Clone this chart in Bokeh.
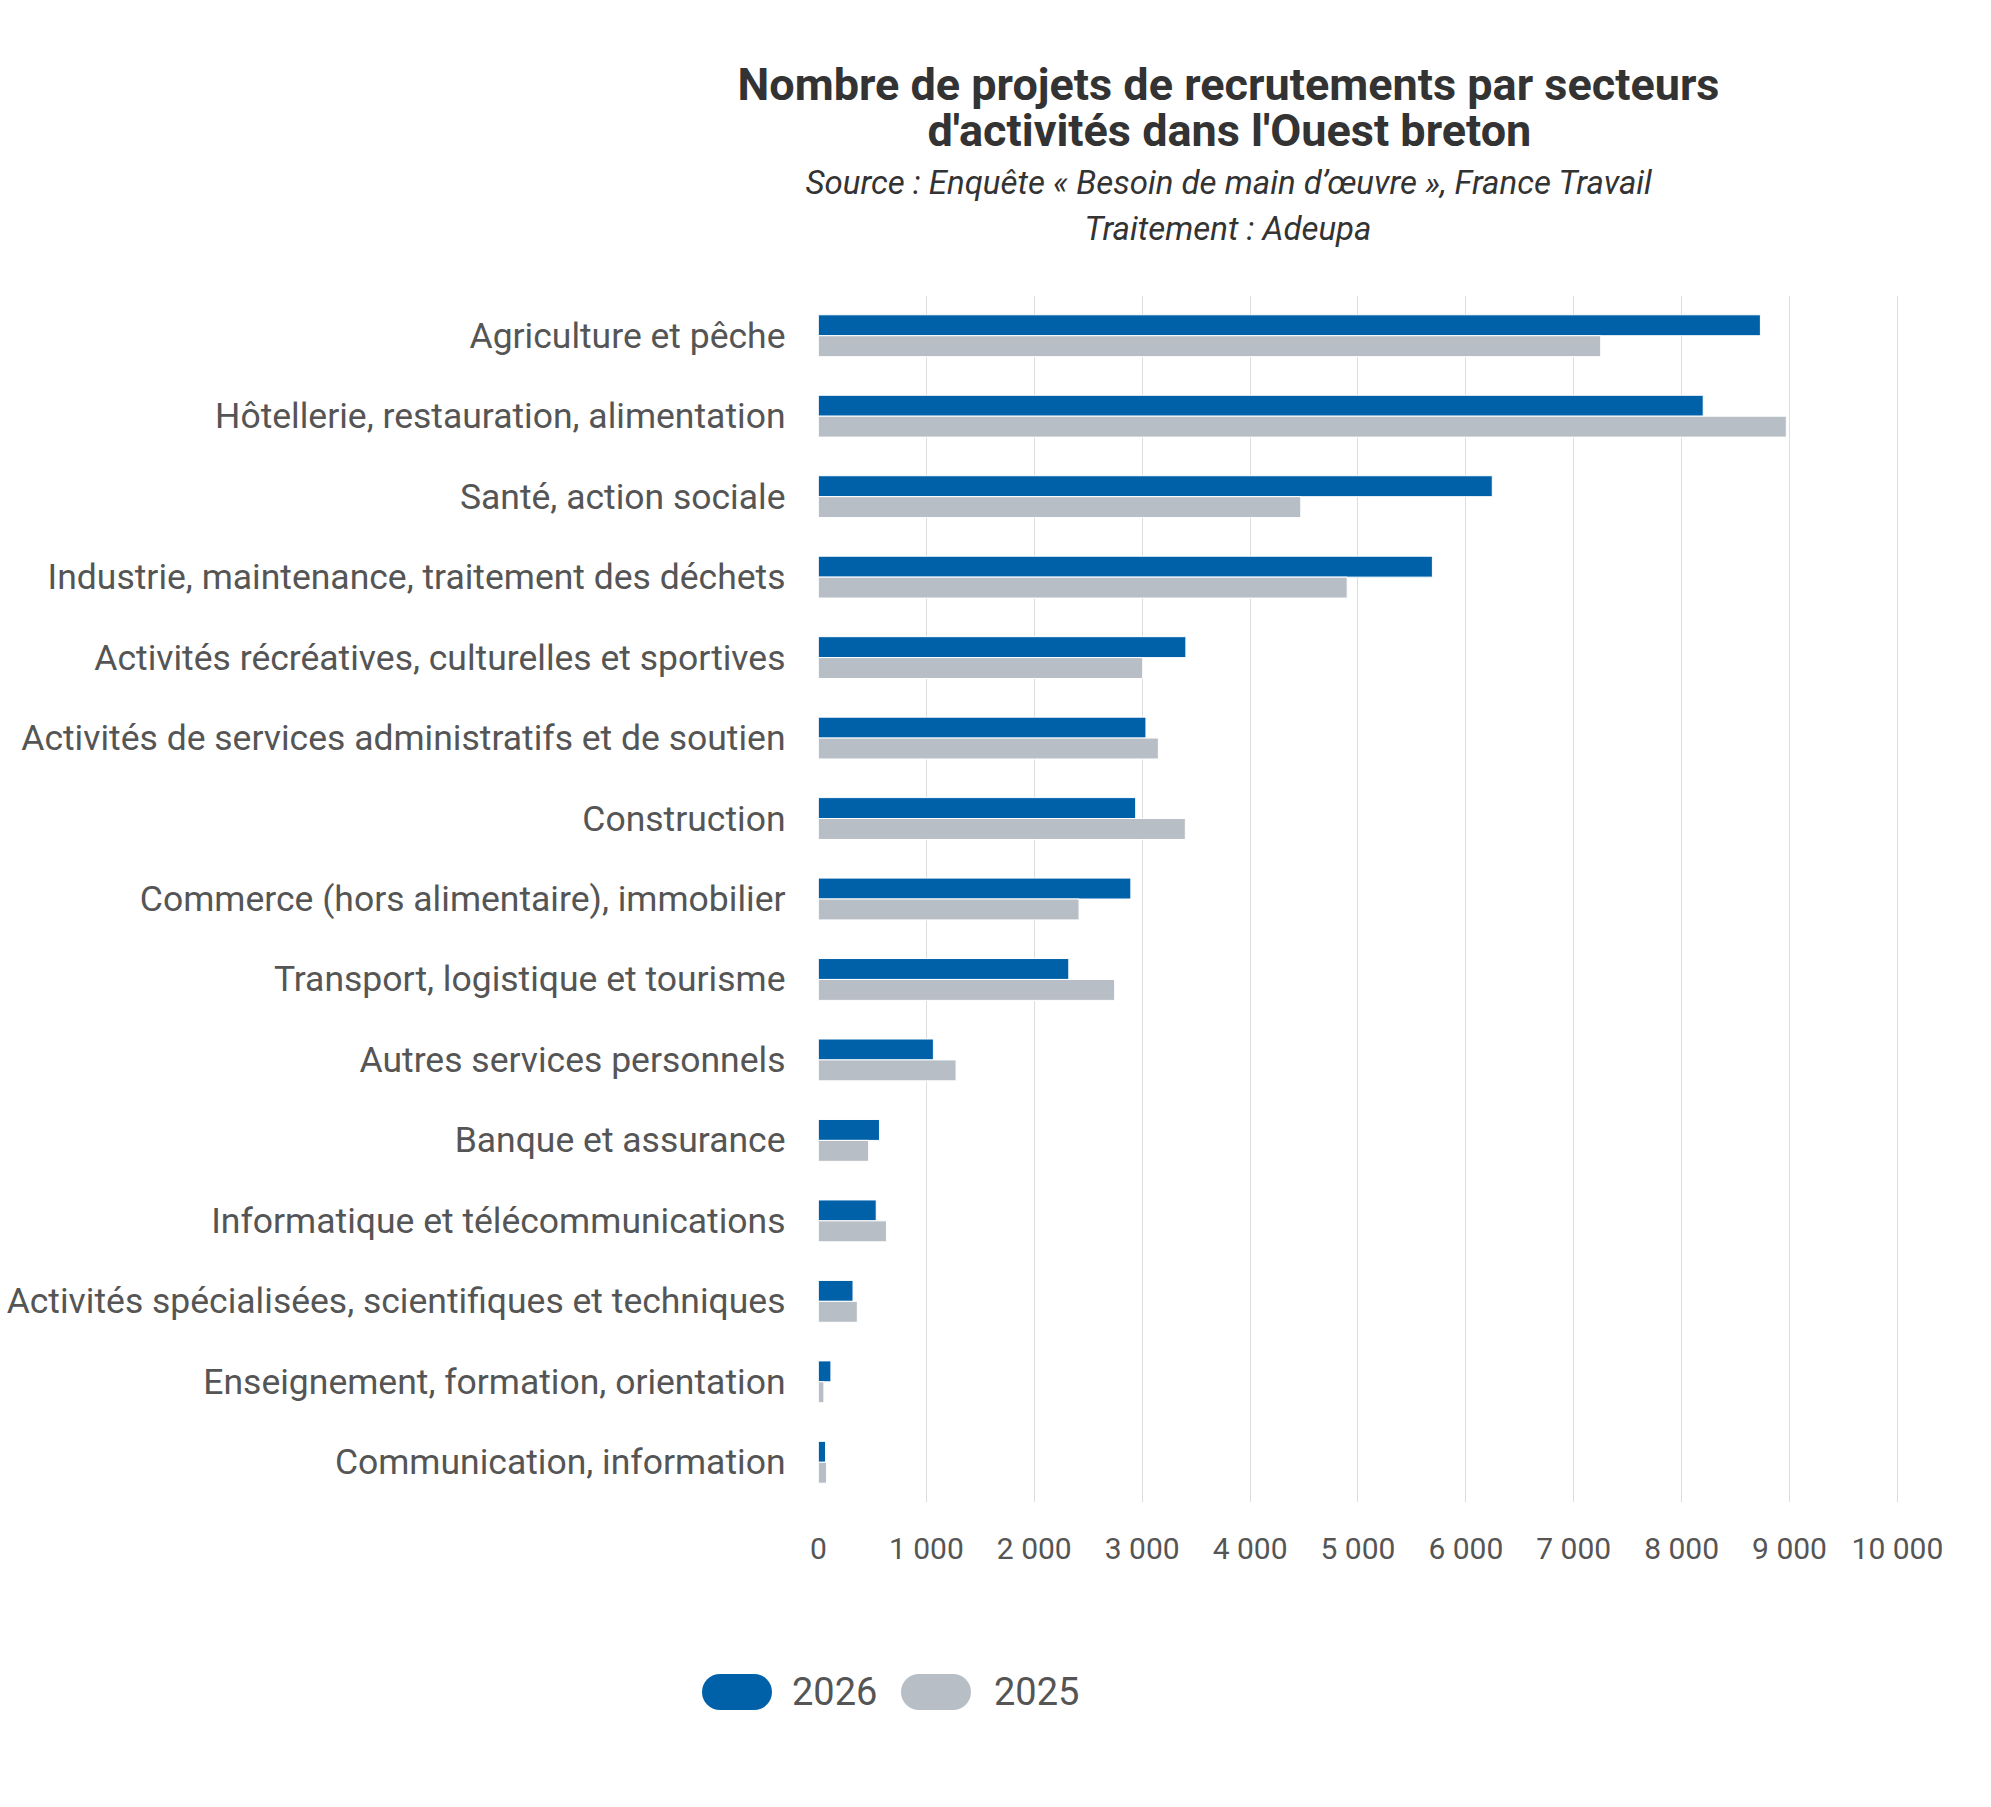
from bokeh.plotting import figure
from bokeh.models import (FactorRange, Range1d, FixedTicker, Title, ColumnDataSource, Div)
from bokeh.layouts import column
from bokeh.transform import dodge
from bokeh.embed import file_html
from bokeh.resources import INLINE

# ---- data ----
categories = [
    "Agriculture et pêche",
    "Hôtellerie, restauration, alimentation",
    "Santé, action sociale",
    "Industrie, maintenance, traitement des déchets",
    "Activités récréatives, culturelles et sportives",
    "Activités de services administratifs et de soutien",
    "Construction",
    "Commerce (hors alimentaire), immobilier",
    "Transport, logistique et tourisme",
    "Autres services personnels",
    "Banque et assurance",
    "Informatique et télécommunications",
    "Activités spécialisées, scientifiques et techniques",
    "Enseignement, formation, orientation",
    "Communication, information",
]
values_2026 = [8730, 8200, 6245, 5690, 3405, 3035, 2940, 2895, 2320, 1065, 565, 535, 320, 115, 65]
values_2025 = [7250, 8970, 4470, 4900, 3005, 3150, 3400, 2415, 2745, 1275, 465, 630, 360, 50, 75]
series_names = ["2026", "2025"]
x_ticks = [0, 1000, 2000, 3000, 4000, 5000, 6000, 7000, 8000, 9000, 10000]
x_tick_labels = ["0", "1 000", "2 000", "3 000", "4 000", "5 000", "6 000", "7 000",
                 "8 000", "9 000", "10 000"]
title_lines = ["Nombre de projets de recrutements par secteurs",
               "d'activités dans l'Ouest breton"]
subtitle_lines = ["Source : Enquête « Besoin de main d’œuvre », France Travail",
                  "Traitement : Adeupa"]

BLUE = "#0061A9"
GREY = "#B8BEC5"
TEXT = "#555555"
TITLE = "#333333"
FONT = "Roboto"
series_colors = [BLUE, GREY]

W = 1975
H_MAIN = 1620
H_LEG = 170

source = ColumnDataSource(dict(cat=categories, v26=values_2026, v25=values_2025))

fig = figure(width=W, height=H_MAIN, output_backend="svg", toolbar_location=None,
             y_range=FactorRange(factors=list(reversed(categories))),
             x_range=Range1d(0, 10010),
             min_border_left=818, min_border_right=W - 818 - 1080,
             min_border_top=295, min_border_bottom=H_MAIN - 1502)
fig.outline_line_color = None
fig.background_fill_color = "white"

fig.hbar(y=dodge("cat", 0.13, range=fig.y_range), right="v26", left=0, height=0.26,
         source=source, fill_color=BLUE, line_color="white", line_width=1)
fig.hbar(y=dodge("cat", -0.13, range=fig.y_range), right="v25", left=0, height=0.26,
         source=source, fill_color=GREY, line_color="white", line_width=1)

# axes
fig.xaxis.ticker = FixedTicker(ticks=x_ticks)
fig.xaxis.major_label_overrides = {t: l for t, l in zip(x_ticks, x_tick_labels)}
fig.xaxis.axis_line_color = None
fig.xaxis.major_tick_line_color = None
fig.xaxis.major_tick_out = 0
fig.xaxis.major_tick_in = 0
fig.xaxis.minor_tick_line_color = None
fig.xaxis.major_label_text_font = FONT
fig.xaxis.major_label_text_font_size = "30px"
fig.xaxis.major_label_text_color = TEXT
fig.xaxis.major_label_standoff = 28

fig.yaxis.axis_line_color = None
fig.yaxis.major_tick_line_color = None
fig.yaxis.major_tick_out = 0
fig.yaxis.major_tick_in = 0
fig.yaxis.minor_tick_line_color = None
fig.yaxis.major_label_text_font = FONT
fig.yaxis.major_label_text_font_size = "35.5px"
fig.yaxis.major_label_text_color = TEXT
fig.yaxis.major_label_standoff = 33

fig.xgrid.grid_line_color = "#dddddd"
fig.xgrid.grid_line_width = 1
fig.ygrid.grid_line_color = None

# titles: stacked "above" panels, nearest to the frame first
fig.add_layout(Title(text=" ", text_font_size="10px", standoff=35), "above")  # spacer
fig.add_layout(Title(text=subtitle_lines[1], align="left", offset=266, standoff=0,
                     text_font=FONT, text_font_size="33px", text_font_style="italic",
                     text_color=TITLE), "above")
fig.add_layout(Title(text=subtitle_lines[0], align="left", offset=-13, standoff=9,
                     text_font=FONT, text_font_size="33px", text_font_style="italic",
                     text_color=TITLE), "above")
fig.add_layout(Title(text=title_lines[1], align="left", offset=109, standoff=0,
                     text_font=FONT, text_font_size="45px", text_font_style="bold",
                     text_color=TITLE), "above")
t1 = Title(text=title_lines[0], align="left", offset=-81, standoff=0,
           text_font=FONT, text_font_size="45px", text_font_style="bold",
           text_color=TITLE)
try:
    t1.standoff = -18
except ValueError:
    t1.standoff = 0
fig.add_layout(t1, "above")

# legend strip below the chart: rounded swatches + series names
pill_left = [702, 901]
text_left = [792, 994]
parts = []
for name, color, px, tx in zip(series_names, series_colors, pill_left, text_left):
    parts.append(
        f'<span style="position:absolute;left:{px}px;top:54px;width:70px;height:36px;'
        f'border-radius:18px;background:{color};"></span>'
        f'<span style="position:absolute;left:{tx}px;top:54px;height:36px;'
        f'line-height:36px;white-space:nowrap;">{name}</span>')
legend_html = (f'<div style="position:relative;width:{W}px;height:{H_LEG}px;'
               f'font-family:Roboto,sans-serif;font-size:38px;color:{TEXT};">'
               + "".join(parts) + '</div>')
legend_div = Div(text=legend_html, width=W, height=H_LEG, margin=(0, 0, 0, 0))

p = column(fig, legend_div, spacing=0)
open("out.html", "w").write(file_html(p, INLINE))
